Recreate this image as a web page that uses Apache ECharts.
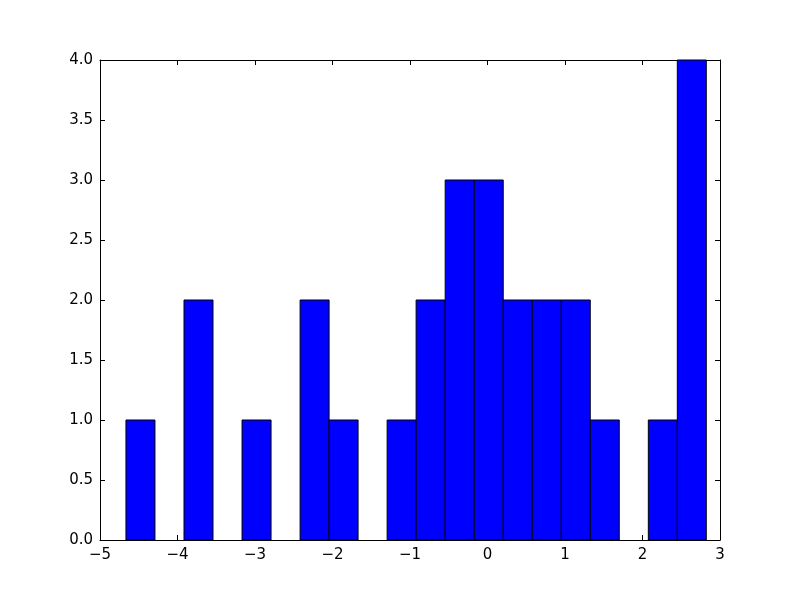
<!DOCTYPE html>
<html><head><meta charset="utf-8">
<script src="https://cdn.jsdelivr.net/npm/echarts@6/dist/echarts.min.js"></script>
<style>html,body{margin:0;padding:0;background:#fff}#c{width:800px;height:600px}</style>
</head><body><div id="c"></div>
<script>
var binEdges = [-4.665, -4.291, -3.916, -3.542, -3.167, -2.793, -2.418, -2.044, -1.670, -1.295, -0.921, -0.546, -0.172, 0.203, 0.577, 0.952, 1.326, 1.700, 2.075, 2.449, 2.823];
var counts = [1, 0, 2, 0, 1, 0, 2, 1, 0, 1, 2, 3, 3, 2, 2, 2, 1, 0, 1, 4];
var xTicks = [-5, -4, -3, -2, -1, 0, 1, 2, 3];
var yTicks = [0, 0.5, 1, 1.5, 2, 2.5, 3, 3.5, 4];

var data = [];
for (var i = 0; i < counts.length; i++) {
  if (counts[i] > 0) data.push([binEdges[i], binEdges[i + 1], counts[i]]);
}
function fmtX(v){ return (v < 0 ? '\u2212' + Math.abs(v) : String(v)); }
function fmtY(v){ return v.toFixed(1); }
var font = {fontFamily: 'DejaVu Sans', fontSize: 15, color: '#000'};
var chart = echarts.init(document.getElementById('c'), null, {renderer: 'canvas'});
var baseX = {
  type: 'value', min: xTicks[0], max: xTicks[xTicks.length - 1], interval: 1,
  axisLine: {show: true, onZero: false, lineStyle: {color: '#000', width: 1}},
  axisTick: {show: true, inside: true, length: 5, lineStyle: {color: '#000'}},
  splitLine: {show: false}
};
var baseY = {
  type: 'value', min: yTicks[0], max: yTicks[yTicks.length - 1], interval: 0.5,
  axisLine: {show: true, onZero: false, lineStyle: {color: '#000', width: 1}},
  axisTick: {show: true, inside: true, length: 5, lineStyle: {color: '#000'}},
  splitLine: {show: false}
};
chart.setOption({
  animation: false,
  backgroundColor: '#fff',
  grid: {left: 100, right: 80, top: 60, bottom: 60, containLabel: false},
  xAxis: [
    Object.assign({}, baseX, {position: 'bottom', axisLabel: Object.assign({show: true, margin: 8, formatter: fmtX}, font)}),
    Object.assign({}, baseX, {position: 'top', axisLabel: {show: false}})
  ],
  yAxis: [
    Object.assign({}, baseY, {position: 'left', axisLabel: Object.assign({show: true, margin: 7, formatter: fmtY}, font)}),
    Object.assign({}, baseY, {position: 'right', axisLabel: {show: false}})
  ],
  series: [{
    type: 'custom',
    xAxisIndex: 0, yAxisIndex: 0,
    data: data,
    encode: {x: [0, 1], y: 2},
    renderItem: function (params, api) {
      var p0 = api.coord([api.value(0), 0]);
      var p1 = api.coord([api.value(1), api.value(2)]);
      return {
        type: 'rect',
        shape: {x: p0[0], y: p1[1], width: p1[0] - p0[0], height: p0[1] - p1[1]},
        style: {fill: '#0000ff', stroke: '#000', lineWidth: 1}
      };
    }
  }]
});
</script></body></html>
